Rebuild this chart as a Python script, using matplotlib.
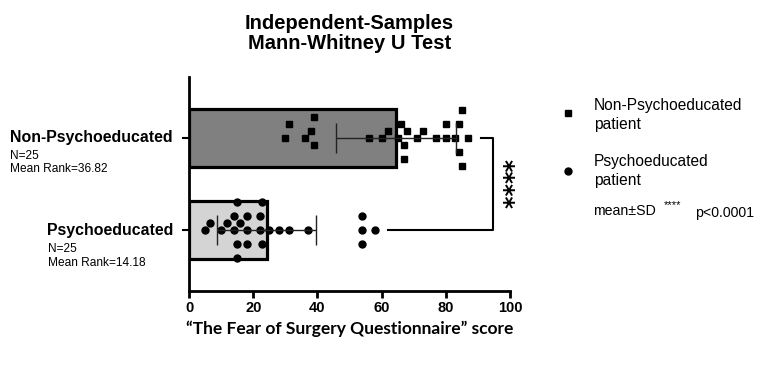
import numpy as np
import matplotlib
matplotlib.use("Agg")
import matplotlib.pyplot as plt
from matplotlib.lines import Line2D

plt.rcParams['font.family'] = ['Liberation Sans', 'DejaVu Sans']

# ---------------- data ----------------
groups = ["Non-Psychoeducated", "Psychoeducated"]
n_labels = ["N=25", "N=25"]
rank_labels = ["Mean Rank=36.82", "Mean Rank=14.18"]
non_psych = [30, 31, 36, 38, 39, 39, 56, 60, 62, 65, 66, 67, 67, 68, 71, 73, 77,
             80, 80, 83, 84, 84, 85, 85, 87]
psych = [5, 6.5, 10, 11.7, 14, 14, 15, 15, 15, 16, 18, 18, 18, 22, 22, 22.6, 22.6,
         25, 28, 31, 37, 54, 54, 54, 58]
xticks = [0, 20, 40, 60, 80, 100]
title = "Independent-Samples\nMann-Whitney U Test"
xlabel = "\u201cThe Fear of Surgery Questionnaire\u201d score"
legend_labels = ["Non-Psychoeducated\npatient", "Psychoeducated\npatient"]
stat_note = "mean\u00b1SD"
sig_text = "****"
p_text = "p<0.0001"

# ---------------- figure ----------------
W, H = 771, 365
fig = plt.figure(figsize=(W / 100, H / 100), dpi=100)
ax_l, ax_r, ax_t, ax_b = 189, 510, 77, 291
ax = fig.add_axes([ax_l / W, 1 - ax_b / H, (ax_r - ax_l) / W, (ax_b - ax_t) / H])
ax.set_xlim(0, 100)
ax.set_ylim(-0.663, 1.663)

px_per_x = (ax_r - ax_l) / 100.0
px_per_y = (ax_b - ax_t) / (1.663 + 0.663)

ypos = [1, 0]
colors = ["#808080", "#d4d4d4"]
markers = ["s", "o"]
datas = [non_psych, psych]


def swarm(vals, diam_px, step_px):
    vals = np.asarray(vals, float)
    order = np.argsort(vals)
    placed = []
    offs = np.zeros(len(vals))
    cands = [0]
    for j in range(1, 30):
        cands += [j, -j]
    for i in order:
        xp = vals[i] * px_per_x
        for c in cands:
            yp = c * step_px
            ok = True
            for (px, py) in placed:
                if (px - xp) ** 2 + (py - yp) ** 2 < diam_px ** 2 * 0.98:
                    ok = False
                    break
            if ok:
                placed.append((xp, yp))
                offs[i] = yp
                break
    return offs / px_per_y


for d, y, c, m in zip(datas, ypos, colors, markers):
    mean = np.mean(d)
    sd = np.std(d, ddof=1)
    ax.barh(y, mean, height=0.63, color=c, edgecolor="black", linewidth=2.3, zorder=1)
    offs = swarm(d, 8.0, 7.0)
    ax.plot(d, y + offs, linestyle="none", marker=m, markersize=5.0,
            color="black", zorder=3, clip_on=False)
    ax.errorbar(mean, y, xerr=sd, fmt="none", ecolor="#222222", elinewidth=1.0,
                capsize=10.5, capthick=1.0, zorder=4)

# significance bracket
bx = 94.7
ax.plot([91.1, bx, bx, 62.0], [1, 1, 0, 0], color="black", lw=1.5,
        clip_on=False, zorder=2)
ax.text(bx + 3.1, 0.5, sig_text, rotation=270, ha="center", va="center",
        fontsize=17, fontweight="bold", family=['DejaVu Sans'])

# axes styling
for s in ["top", "right"]:
    ax.spines[s].set_visible(False)
ax.spines["left"].set_linewidth(2.0)
ax.spines["bottom"].set_linewidth(2.0)
ax.set_xticks(xticks)
ax.set_xticklabels([str(t) for t in xticks], fontsize=10.5, fontweight="bold")
ax.tick_params(axis="x", length=5, width=2, pad=2)
ax.set_yticks(ypos)
ax.set_yticklabels([])
ax.tick_params(axis="y", length=5, width=1.5)

# category labels
ax.text(-0.05, 1, groups[0], transform=ax.get_yaxis_transform(), ha="right",
        va="center", fontsize=11.4, fontweight="bold")
ax.text(-0.05, 0, groups[1], transform=ax.get_yaxis_transform(), ha="right",
        va="center", fontsize=11.4, fontweight="bold")
fig.text(10 / W, 1 - 156 / H, n_labels[0], fontsize=8.6, va="center", ha="left")
fig.text(10 / W, 1 - 169 / H, rank_labels[0], fontsize=8.6, va="center", ha="left")
fig.text(48 / W, 1 - 249 / H, n_labels[1], fontsize=8.6, va="center", ha="left")
fig.text(48 / W, 1 - 263 / H, rank_labels[1], fontsize=8.6, va="center", ha="left")

# title & xlabel
ax.set_title(title, fontsize=14.5, fontweight="bold", pad=20, linespacing=1.1)
ax.set_xlabel(xlabel, fontsize=12.5, fontweight="bold", family=['Lato', 'DejaVu Sans'],
              labelpad=4)

# legend (custom)
fig.add_artist(Line2D([568 / W], [1 - 113 / H], marker="s", markersize=5,
                      color="black", linestyle="none", transform=fig.transFigure))
fig.add_artist(Line2D([568 / W], [1 - 171 / H], marker="o", markersize=5,
                      color="black", linestyle="none", transform=fig.transFigure))
fig.text(594 / W, 1 - 115 / H, legend_labels[0], fontsize=11.2, va="center",
         ha="left", linespacing=1.3)
fig.text(594 / W, 1 - 171 / H, legend_labels[1], fontsize=11.2, va="center",
         ha="left", linespacing=1.3)
fig.text(593 / W, 1 - 211 / H, stat_note, fontsize=10.2, va="center", ha="left")
fig.text(664 / W, 1 - 205 / H, sig_text, fontsize=8, va="center", ha="left")
fig.text(695 / W, 1 - 213 / H, p_text, fontsize=10.2, va="center", ha="left")

fig.savefig("out.png", dpi=100)
